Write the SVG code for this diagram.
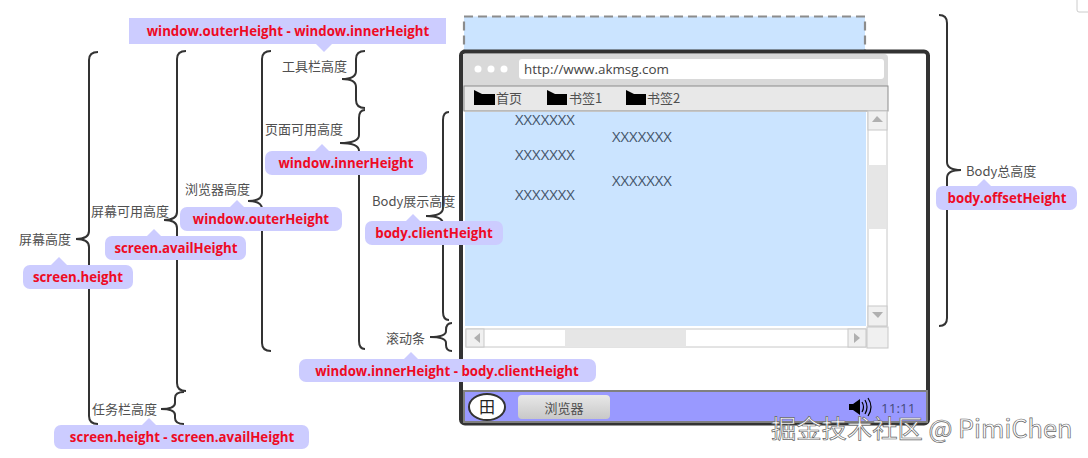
<svg xmlns="http://www.w3.org/2000/svg" width="1088" height="458" viewBox="0 0 1088 458">
<style>
text{font-family:"Liberation Sans","Noto Sans CJK SC",sans-serif}
.l{font-size:13px;fill:#505050;font-family:"Noto Sans CJK SC","Liberation Sans",sans-serif}
.c{font-size:13.250px;font-weight:700;fill:#ee0a24;text-anchor:middle;font-family:"Open Sans","Liberation Sans",sans-serif}
.b{fill:#ccccff}
.br{fill:none;stroke:#333;stroke-width:2}
.x{font-size:14.800px;fill:#44546a;font-family:"Open Sans","Liberation Sans",sans-serif}
.g{fill:#e6e6e6}
.s{fill:#f0f0f0;stroke:#c8c8c8}
</style>
<defs><linearGradient id="btn" x1="0" y1="0" x2="0" y2="1"><stop offset="0" stop-color="#e8e8e8"/><stop offset="1" stop-color="#c8c8c8"/></linearGradient></defs>
<rect x="1077" y="-4" width="20" height="16" rx="2" fill="#fff" stroke="#ccc"/>
<g id="browser-mock">
<rect x="464" y="16.500" width="401" height="40" fill="#cbe4ff" stroke="#8c8c8c" stroke-width="2.200" stroke-dasharray="9 5"/>
<rect x="461" y="51.500" width="467" height="372" rx="4" fill="#fff" stroke="#333" stroke-width="4"/>
<path d="M463 54H884a4 4 0 0 1 4 4V111H463Z" fill="#d9d9d9"/>
<circle cx="478" cy="69" r="3.500" fill="#fff"/><circle cx="491" cy="69" r="3.500" fill="#fff"/><circle cx="504" cy="69" r="3.500" fill="#fff"/>
<rect x="519" y="59" width="365" height="20" rx="3" fill="#fff"/>
<text x="524" y="74" font-size="13.400" fill="#444" style="font-family:'Open Sans','Liberation Sans',sans-serif">http://www.akmsg.com</text>
<rect x="464" y="86" width="424" height="25" fill="#e8e8e8" stroke="#8c8c8c"/>
<path d="M474 90l8 4H495V105H474Z"/><path d="M547 90l8 4H567V105H547Z"/><path d="M626 90l8 4H646V105H626Z"/>
<text class="l" x="496" y="103">首页</text><text class="l" x="569" y="103">书签1</text><text class="l" x="647" y="103">书签2</text>
<rect x="465" y="112" width="401" height="214" fill="#cbe4ff"/>
<text class="x" x="515" y="125">XXXXXXX</text><text class="x" x="612" y="142">XXXXXXX</text><text class="x" x="515" y="160">XXXXXXX</text><text class="x" x="612" y="186">XXXXXXX</text><text class="x" x="515" y="200">XXXXXXX</text>
<rect x="868" y="111" width="19" height="215" fill="#fff" stroke="#c8c8c8"/>
<rect class="s" x="868" y="111" width="19" height="19"/><path d="M872 122l5-6 6 6Z" fill="#b0b0b0"/>
<rect class="g" x="868" y="165" width="18" height="64"/>
<rect class="s" x="868" y="306" width="19" height="20"/><path d="M872 312h11l-5 6Z" fill="#b0b0b0"/>
<rect x="466" y="329" width="400" height="18" fill="#fff" stroke="#c8c8c8"/>
<rect class="s" x="466" y="329" width="18" height="18"/><path d="M480 333v10l-6-5Z" fill="#b0b0b0"/>
<rect class="g" x="565" y="330" width="121" height="17"/>
<rect class="s" x="848" y="329" width="18" height="18"/><path d="M854 333v10l6-5Z" fill="#b0b0b0"/>
<rect class="s" x="867" y="327" width="21" height="21"/>
<rect x="464" y="391" width="463" height="31" fill="#9999ff" stroke="#808080" stroke-width="2"/>
<ellipse cx="487" cy="407" rx="18" ry="13" fill="#fff" stroke="#333" stroke-width="2"/>
<text x="487" y="413" font-size="16" text-anchor="middle" fill="#222" style="font-family:'Noto Sans CJK SC',sans-serif">田</text>
<rect x="518" y="395" width="92" height="24" rx="4" fill="url(#btn)"/>
<text class="l" x="564" y="413" text-anchor="middle">浏览器</text>
<path d="M849 404h4l7-5v16l-7-5h-4Z" fill="#000"/>
<path d="M862 402q3 5 0 10M865 400q4 7 0 14M868 398q6 9 0 18" fill="none" stroke="#000" stroke-width="1.200"/>
<text x="881" y="413" font-size="13.500" fill="#444a7a" style="font-family:'Open Sans','Liberation Sans',sans-serif">11:11</text>
</g>
<g id="connectors">
<path class="br" d="M98 52Q89 52 89 60V231Q89 239 76 239Q89 239 89 247V416Q89 424 98 424"/>
<path class="br" d="M186 51Q177 51 177 59V212Q177 220 164 220Q177 220 177 228V383Q177 391 186 391"/>
<path class="br" d="M184 392Q175 392 175 398V403Q175 409 161 409Q175 409 175 415V418Q175 424 184 424"/>
<path class="br" d="M271 51Q262 51 262 59V193Q262 201 248 201Q262 201 262 209V343Q262 351 271 351"/>
<path class="br" d="M365 51Q356 51 356 59V71Q356 79 342 79Q356 79 356 87V100Q356 108 365 108"/>
<path class="br" d="M365 110Q359 110 359 118V135Q359 143 340 143Q359 143 359 151V341Q359 349 365 349"/>
<path class="br" d="M449 112Q443 112 443 120V208Q443 216 426 216Q443 216 443 224V312Q443 320 449 320"/>
<path class="br" d="M452 323Q446 323 446 330V331Q446 337 430 337Q446 337 446 343V345Q446 351 452 351"/>
<path class="br" d="M939 15Q947 15 947 23V162Q947 170 961 170Q947 170 947 178V318Q947 326 939 326"/>
</g>
<g id="n-screen"><text class="l" x="19" y="244">屏幕高度</text><path class="b" d="M50 266l9-9 9 9Z"/><rect class="b" x="23" y="265" width="110" height="24" rx="7"/><text class="c" x="78" y="282">screen.height</text></g>
<g id="n-avail"><text class="l" x="91" y="216">屏幕可用高度</text><path class="b" d="M145 238l9-9 9 9Z"/><rect class="b" x="105" y="236" width="141" height="24" rx="7"/><text class="c" x="176" y="253">screen.availHeight</text></g>
<g id="n-task"><text class="l" x="92" y="414">任务栏高度</text><path class="b" d="M140 427l9-9 9 9Z"/><rect class="b" x="54" y="425" width="255" height="24" rx="7"/><text class="c" x="182" y="442">screen.height - screen.availHeight</text></g>
<g id="n-browser"><text class="l" x="185" y="194">浏览器高度</text><path class="b" d="M228 209l9-9 9 9Z"/><rect class="b" x="180" y="207" width="162" height="24" rx="7"/><text class="c" x="261" y="224">window.outerHeight</text></g>
<g id="n-toolbar"><text class="l" x="282" y="71">工具栏高度</text><path class="b" d="M315 43l9 9 9-9Z"/><rect class="b" x="129" y="18" width="317" height="26"/><text class="c" x="288" y="36">window.outerHeight - window.innerHeight</text></g>
<g id="n-page"><text class="l" x="265" y="134">页面可用高度</text><path class="b" d="M313 153l9-9 9 9Z"/><rect class="b" x="265" y="151" width="162" height="24" rx="7"/><text class="c" x="346" y="168">window.innerHeight</text></g>
<g id="n-body"><text class="l" x="372" y="206">Body展示高度</text><path class="b" d="M404 223l9-9 9 9Z"/><rect class="b" x="365" y="221" width="138" height="24" rx="7"/><text class="c" x="434" y="238">body.clientHeight</text></g>
<g id="n-scroll"><text class="l" x="386" y="343">滚动条</text><path class="b" d="M402 361l9-9 9 9Z"/><rect class="b" x="299" y="359" width="297" height="23" rx="7"/><text class="c" x="447" y="376">window.innerHeight - body.clientHeight</text></g>
<g id="n-total"><text class="l" x="966" y="176">Body总高度</text><path class="b" d="M975 188l9-9 9 9Z"/><rect class="b" x="936" y="186" width="141" height="24" rx="7"/><text class="c" x="1007" y="203">body.offsetHeight</text></g>
<text x="771" y="438" font-size="25.300" fill="#fff" stroke="#666" stroke-width=".7" style="font-family:'Noto Sans CJK SC','Liberation Sans',sans-serif">掘金技术社区 @ PimiChen</text>
</svg>
